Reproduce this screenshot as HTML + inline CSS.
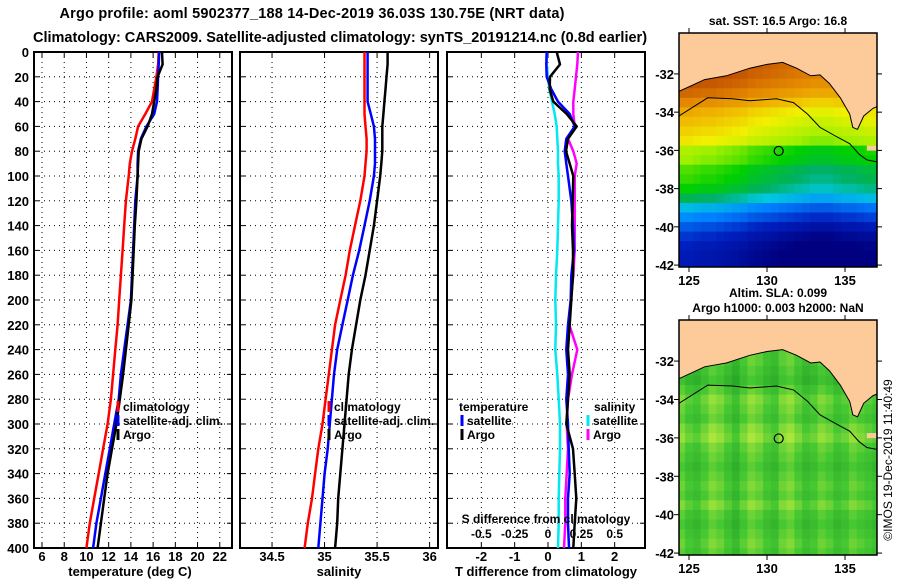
<!DOCTYPE html>
<html><head><meta charset="utf-8"><style>
body{margin:0;background:#fff}
svg{display:block}
text{font-family:"Liberation Sans",sans-serif;font-weight:bold;fill:#000}
text.norm{font-weight:normal}
</style></head><body>
<svg id="c" width="900" height="580" viewBox="0 0 900 580"></svg>
<script>
// ---- data ----
const depths=[0,10,20,30,40,50,60,70,80,90,100,120,140,160,180,200,220,240,260,280,300,320,340,360,380,400];
const tempClim=[16.5,16.45,16.3,16.1,15.9,15.3,14.65,14.4,14.1,13.9,13.8,13.55,13.4,13.25,13.1,12.95,12.8,12.6,12.4,12.2,11.9,11.5,11.1,10.7,10.3,10.0];
const tempSat=[16.55,16.5,16.45,16.4,16.35,16.1,15.4,14.9,14.65,14.6,14.6,14.4,14.3,14.2,14.1,14.0,13.7,13.4,13.1,12.9,12.5,12.1,11.7,11.3,10.9,10.6];
const tempArgo=[16.8,16.85,16.4,16.3,16.1,15.9,15.5,14.95,14.7,14.65,14.6,14.5,14.35,14.25,14.15,14.05,13.8,13.55,13.3,13.0,12.7,12.3,11.9,11.6,11.3,11.0];
const salArgo=[35.6,35.6,35.59,35.58,35.57,35.56,35.55,35.55,35.55,35.54,35.53,35.5,35.47,35.43,35.39,35.34,35.3,35.26,35.23,35.21,35.19,35.17,35.15,35.13,35.12,35.1];
const salSat=[35.41,35.41,35.41,35.41,35.41,35.44,35.47,35.48,35.48,35.48,35.47,35.43,35.38,35.33,35.27,35.22,35.17,35.12,35.09,35.07,35.05,35.03,35.0,34.98,34.96,34.94];
const salClim=[35.38,35.38,35.38,35.38,35.38,35.38,35.39,35.4,35.4,35.39,35.38,35.34,35.29,35.24,35.2,35.15,35.1,35.07,35.04,35.01,34.98,34.94,34.91,34.88,34.84,34.81];
const tDiffSat=[-0.04,-0.05,-0.04,0.1,0.3,0.65,0.8,0.55,0.5,0.55,0.6,0.7,0.75,0.78,0.7,0.68,0.6,0.55,0.6,0.55,0.6,0.62,0.65,0.6,0.6,0.63];
const tDiffArgo=[0.26,0.36,0.06,0.05,0.16,0.56,0.86,0.6,0.54,0.65,0.76,0.74,0.72,0.75,0.75,0.7,0.65,0.6,0.65,0.6,0.55,0.75,0.8,0.85,0.8,0.76];
const sDiffArgo=[0.225,0.22,0.21,0.2,0.19,0.19,0.2,0.15,0.19,0.215,0.2,0.2,0.2,0.2,0.19,0.17,0.16,0.22,0.18,0.15,0.14,0.15,0.14,0.13,0.13,0.12];
const sDiffSat=[-0.01,-0.01,0.0,0.01,0.03,0.05,0.065,0.07,0.075,0.075,0.08,0.08,0.075,0.07,0.06,0.055,0.06,0.055,0.07,0.08,0.09,0.09,0.085,0.08,0.08,0.075];
const depthTicks=[0,20,40,60,80,100,120,140,160,180,200,220,240,260,280,300,320,340,360,380,400];
const tempTicks=[6,8,10,12,14,16,18,20,22];
const salTicks=[34.5,35,35.5,36];
const salTickLabels=["34.5","35","35.5","36"];
const tdTicks=[-2,-1,0,1,2];
const sdTicks=[-0.5,-0.25,0,0.25,0.5];
const sdTickLabels=["-0.5","-0.25","0","0.25","0.5"];
// maps
const mapLatRows=[-30,-30.5,-31,-31.5,-32,-32.5,-33,-33.5,-34,-34.5,-35,-35.5,-36,-36.5,-37,-37.5,-38,-38.5,-39,-39.5,-40,-40.5,-41,-41.5,-42];
const sstRows=[19.6,19.6,19.6,19.6,19.5,19.3,19.0,18.6,18.2,18.0,17.8,17.6,17.0,16.9,16.6,16.5,16.3,15.9,15.3,14.9,14.5,14.2,14.0,13.9,13.9];
const sstColOffset=[0.5,0.5,0.45,0.4,0.4,0.35,0.3,0.25,0.2,0.1,0.05,0,-0.05,-0.1,-0.15,-0.2,-0.25,-0.3,-0.3,-0.3,-0.25,-0.2,-0.2,-0.15,-0.1,-0.1];
const slaRows=[0.1,0.1,0.1,0.1,0.1,0.09,0.08,0.1,0.12,0.11,0.1,0.12,0.13,0.11,0.1,0.09,0.1,0.11,0.1,0.12,0.1,0.09,0.1,0.11,0.1];
const slaColOffset=[0.02,0,-0.01,0.01,0.03,0.02,0,-0.02,0.01,0.03,0.02,0,-0.01,0.02,0.03,0.01,-0.01,0,0.02,0.01,-0.01,0,0.02,0.01,0,-0.01];
const coastLon=[124.3,124.4,126.0,127.4,128.9,130.0,131.0,131.9,132.8,133.4,134.0,134.7,135.3,135.5,135.8,136.2,136.8,137.1,137.1,124.3];
const coastLat=[-32.9,-32.9,-32.3,-32.1,-31.7,-31.5,-31.4,-31.7,-32.1,-32.05,-32.5,-33.25,-34.1,-34.8,-34.9,-34.2,-33.8,-33.7,-29.8,-29.8];
const isoLon=[124.36,126.2,127.8,128.9,130.6,131.7,132.6,133.4,134.5,135.3,135.9,136.4,137.05];
const isoLat=[-34.2,-33.25,-33.3,-33.4,-33.3,-33.5,-34.1,-34.8,-35.3,-35.65,-36.2,-36.5,-36.6];
const floatLon=130.75, floatLat=-36.03;
const mapLonTicks=[125,130,135];
const mapLatTicks=[-32,-34,-36,-38,-40,-42];

// ---- helpers ----
const svg=document.getElementById('c');
const NS='http://www.w3.org/2000/svg';
function mk(tag,attrs,parent){const e=document.createElementNS(NS,tag);for(const k in attrs)e.setAttribute(k,attrs[k]);(parent||svg).appendChild(e);return e;}
function txt(x,y,s,size,anchor,parent){const t=mk('text',{x:x,y:y,'font-size':size,'text-anchor':anchor||'middle'},parent);t.textContent=s;return t;}
const yTop=52,yBot=548;
function yD(d){return yTop+(d/400)*(yBot-yTop);}
function lin(d0,d1,p0,p1){return v=>p0+(v-d0)/(d1-d0)*(p1-p0);}

function panel(name,x0,x1,xs,ticks,labels){
  const g=mk('g',{});
  
  
  ticks.forEach((t,i)=>{const x=xs(t);
    mk('line',{x1:x,x2:x,y1:yTop,y2:yBot,stroke:'#000','stroke-width':1,'stroke-dasharray':'1,4'},g);
    mk('line',{x1:x,x2:x,y1:yBot,y2:yBot-5,stroke:'#000'},g);
    mk('line',{x1:x,x2:x,y1:yTop,y2:yTop+5,stroke:'#000'},g);
    if(labels){txt(x,561,labels[i],13,'middle',g);}
  });
  depthTicks.forEach(d=>{const y=yD(d);
    mk('line',{x1:x0,x2:x1,y1:y,y2:y,stroke:'#000','stroke-width':1,'stroke-dasharray':'1,4'},g);
    mk('line',{x1:x0,x2:x0+5,y1:y,y2:y,stroke:'#000'},g);
    mk('line',{x1:x1,x2:x1-5,y1:y,y2:y,stroke:'#000'},g);
  });
  mk('rect',{x:x0,y:yTop,width:x1-x0,height:yBot-yTop,fill:'none',stroke:'#000','stroke-width':2},g);
  return g;
}
function profile(name,vals,xs,color,parent){
  const pts=vals.map((v,i)=>xs(v).toFixed(1)+','+yD(depths[i]).toFixed(1)).join(' ');
  const p=mk('polyline',{points:pts,fill:'none',stroke:color,'stroke-width':2.5,'stroke-linejoin':'round'},parent);
  
  
}
function legendEntry(name,x,y,color,label,parent){
  const g=mk('g',{},parent);
  
  
  mk('line',{x1:x,x2:x,y1:y-10,y2:y+1,stroke:color,'stroke-width':3},g);
  txt(x+5,y,label,12,'start',g);
}

// titles
const t1=txt(312,18,'Argo profile: aoml 5902377_188 14-Dec-2019 36.03S 130.75E (NRT data)',14.5);
t1.setAttribute('textLength','505');

const t2=txt(340,42,'Climatology: CARS2009. Satellite-adjusted climatology: synTS_20191214.nc (0.8d earlier)',14.5);


// depth labels
const dl=mk('g',{});

depthTicks.forEach(d=>txt(29,yD(d)+5,String(d),13,'end',dl));

// panel 1 temperature
const xT=lin(5.28,23.1,34,232);
const p1=panel('temperature-panel',34,232,xT,tempTicks,tempTicks.map(String));
profile('temp-climatology-line',tempClim,xT,'#ff0000',p1);
profile('temp-satellite-line',tempSat,xT,'#0000ff',p1);
profile('temp-argo-line',tempArgo,xT,'#000000',p1);
legendEntry('legend-climatology',118,411,'#ff0000','climatology',p1);
legendEntry('legend-satellite-adj',118,425,'#0000ff','satellite-adj. clim.',p1);
legendEntry('legend-argo',118,439,'#000000','Argo',p1);
const xl1=txt(130,576,'temperature (deg C)',13);

// panel 2 salinity
const xS=lin(34.195,36.08,240,438);
const p2=panel('salinity-panel',240,438,xS,salTicks,salTickLabels);
profile('sal-climatology-line',salClim,xS,'#ff0000',p2);
profile('sal-satellite-line',salSat,xS,'#0000ff',p2);
profile('sal-argo-line',salArgo,xS,'#000000',p2);
legendEntry('legend-climatology-sal',329,411,'#ff0000','climatology',p2);
legendEntry('legend-satellite-adj-sal',329,425,'#0000ff','satellite-adj. clim.',p2);
legendEntry('legend-argo-sal',329,439,'#000000','Argo',p2);
const xl2=txt(339,576,'salinity',13);

// panel 3 differences
const xTD=lin(-3.03,2.91,447,645);
const xSD=lin(-0.7575,0.7275,447,645);
const p3=panel('difference-panel',447,645,xTD,tdTicks,tdTicks.map(String));
profile('sdiff-satellite-line',sDiffSat,xSD,'#00e8f0',p3);
profile('sdiff-argo-line',sDiffArgo,xSD,'#ff00ff',p3);
profile('tdiff-satellite-line',tDiffSat,xTD,'#0000ff',p3);
profile('tdiff-argo-line',tDiffArgo,xTD,'#000000',p3);
txt(459,411,'temperature',12,'start',p3);
legendEntry('legend-t-satellite',462,425,'#0000ff','satellite',p3);
legendEntry('legend-t-argo',462,439,'#000000','Argo',p3);
txt(594,411,'salinity',12,'start',p3);
legendEntry('legend-s-satellite',588,425,'#00e8f0','satellite',p3);
legendEntry('legend-s-argo',588,439,'#ff00ff','Argo',p3);
const sdt=txt(546,523,'S difference from climatology',12,'middle',p3);

sdTicks.forEach((t,i)=>txt(xSD(t),538,sdTickLabels[i],12,'middle',p3));
const xl3=txt(546,576,'T difference from climatology',13);

// ---- maps ----
function interpColor(stops,t){t=Math.max(0,Math.min(1,t));
  for(let i=1;i<stops.length;i++){if(t<=stops[i][0]){const a=stops[i-1],b=stops[i];const f=(t-a[0])/(b[0]-a[0]);
    const c=[0,1,2].map(k=>Math.round(a[1][k]+(b[1][k]-a[1][k])*f));return 'rgb('+c.join(',')+')';}}
  return 'rgb('+stops[stops.length-1][1].join(',')+')';}
const sstStops=[[0,[0,0,128]],[0.12,[0,32,192]],[0.25,[0,128,255]],[0.35,[0,200,224]],[0.42,[0,176,96]],[0.5,[0,208,0]],[0.6,[160,240,0]],[0.7,[240,240,0]],[0.8,[240,176,0]],[0.9,[224,128,0]],[1,[192,80,0]]];
const slaStops=[[0,[40,170,40]],[0.5,[70,200,50]],[1,[170,230,60]]];
function drawMap(name,y0,y1,rows,offs,stops,vmin,vmax,titleLines){
  const g=mk('g',{});
  
  
  const x0=679,x1=877;
  const xL=lin(124.36,137.05,x0,x1);
  const yL=lin(-29.86,-42.1,y0,y1);
  const cp='clip-'+name;
  const cl=mk('clipPath',{id:cp},g);mk('rect',{x:x0,y:y0,width:x1-x0,height:y1-y0},cl);
  const inner=mk('g',{'clip-path':'url(#'+cp+')'},g);
  offs.forEach((o,j)=>{const lon=124.5+j*0.5;
    rows.forEach((r,i)=>{const lat=mapLatRows[i];
      mk('rect',{x:xL(lon-0.25).toFixed(1),y:yL(lat+0.25).toFixed(1),width:(xL(lon+0.25)-xL(lon-0.25)+0.6).toFixed(1),height:(yL(lat-0.25)-yL(lat+0.25)+0.6).toFixed(1),fill:interpColor(stops,(r+o-vmin)/(vmax-vmin))},inner);
    });});
  const land=mk('polygon',{points:coastLon.map((lo,i)=>xL(lo).toFixed(1)+','+yL(coastLat[i]).toFixed(1)).join(' '),fill:'#fdca9a',stroke:'#000','stroke-width':1},inner);
  
  mk('polyline',{points:isoLon.map((lo,i)=>xL(lo).toFixed(1)+','+yL(isoLat[i]).toFixed(1)).join(' '),fill:'none',stroke:'#000','stroke-width':1},inner);
  mk('rect',{x:xL(136.4),y:yL(-35.75),width:12,height:5,fill:'#fdca9a'},inner);
  const fm=mk('circle',{cx:xL(floatLon),cy:yL(floatLat),r:4.5,fill:'none',stroke:'#000','stroke-width':1.2},g);
  
  mk('rect',{x:x0,y:y0,width:x1-x0,height:y1-y0,fill:'none',stroke:'#000','stroke-width':1.5},g);
  mapLonTicks.forEach(l=>{const x=xL(l);mk('line',{x1:x,x2:x,y1:y0,y2:y0-5,stroke:'#000'},g);mk('line',{x1:x,x2:x,y1:y1,y2:y1+5,stroke:'#000'},g);txt(x,y1+18,String(l),13,'middle',g);});
  mapLatTicks.forEach(l=>{const y=yL(l);mk('line',{x1:x0,x2:x0-5,y1:y,y2:y,stroke:'#000'},g);mk('line',{x1:x1,x2:x1+5,y1:y,y2:y,stroke:'#000'},g);txt(674,y+5,String(l),13,'end',g);});
  titleLines.forEach((s,i)=>txt(778,y0-(titleLines.length-1-i)*15-8,s,12,'middle',g));
}
drawMap('sst-map',33,267,sstRows,sstColOffset,sstStops,13.8,19.8,['sat. SST: 16.5 Argo: 16.8']);
drawMap('sla-map',320,555,slaRows,slaColOffset,slaStops,0.06,0.16,['Altim. SLA: 0.099','Argo h1000: 0.003 h2000: NaN']);

const cr=txt(0,0,'©IMOS 19-Dec-2019 11:40:49',12,'middle');
cr.setAttribute('transform','translate(892,460) rotate(-90)');
cr.setAttribute('class','norm');

</script>
</body></html>
